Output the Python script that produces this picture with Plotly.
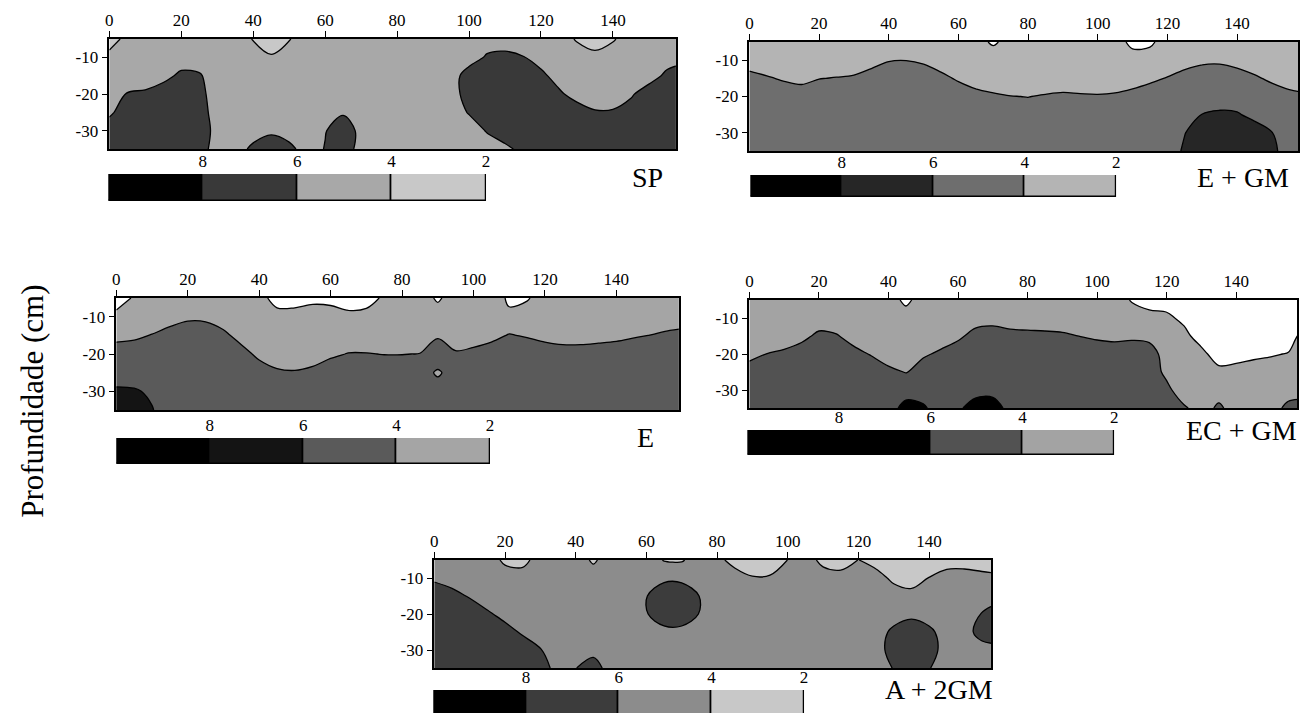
import plotly.graph_objects as go

# ---------------- data ----------------
x_cm = [0, 5, 10, 15, 20, 25, 30, 35, 40, 45, 50, 55, 60, 65, 70, 75, 80,
        85, 90, 95, 100, 105, 110, 115, 120, 125, 130, 135, 140, 145, 150, 155, 160]
depth_cm = [-5, -10, -15, -20, -25, -30, -35]
x_ticks = [0, 20, 40, 60, 80, 100, 120, 140]
depth_ticks = [-10, -20, -30]
levels = [8, 6, 4, 2]          # class limits shown on the colour bars
band_width = [2, 2, 2, 2]

sp_z = [
    [2.5, 5, 5, 5, 5, 5, 5, 5, 3.9, 3, 3.9, 5, 5, 5, 5, 5, 5, 5, 5, 5, 5, 5, 5, 5, 5, 5, 3.8, 3, 3.8, 5, 5, 5, 5],
    [5, 5, 5, 5, 5, 5, 5, 5, 5, 4.2, 5, 5, 5, 5, 5, 5, 5, 5, 5, 5, 5, 6.25, 6.5, 6.1, 5, 5, 5, 4.6, 5, 5, 5, 5, 5.5],
    [5, 5, 5, 5.4, 6.4, 6.2, 5, 5, 5, 5, 5, 5, 5, 5, 5, 5, 5, 5, 5, 5, 7, 7, 7, 7, 6.56, 5, 5, 5, 5, 5, 5, 6.47, 7],
    [5, 6.1, 6.3, 7, 7, 6.6, 5, 5, 5, 5, 5, 5, 5, 5, 5, 5, 5, 5, 5, 5, 7, 7, 7, 7, 7, 6.43, 5, 5, 5, 5.7, 7.17, 7, 7],
    [5.65, 7, 7, 7, 7, 7, 5, 5, 5, 5, 5, 5, 5, 5.8, 5, 5, 5, 5, 5, 5, 6.14, 7, 7, 7, 7, 7, 7.27, 6.16, 6.2, 7, 7, 7, 7],
    [7, 7, 7, 7, 7, 7, 5.4, 5, 5, 5.7, 5, 5, 5.9, 7, 5.5, 5, 5, 5, 5, 5, 5, 6.14, 7, 7, 7, 7, 7, 7, 7, 7, 7, 7, 7],
    [7, 7, 7, 7, 7, 7, 5, 5, 6.5, 7, 6.6, 5, 6.1, 7, 5.3, 5, 5, 5, 5, 5, 5, 5, 5.57, 6.5, 7, 7, 7, 7, 7, 7, 7, 7, 7],
]

egm_z = [
    [3, 3, 3, 3, 3, 3, 3, 3, 3, 3, 3, 3, 3, 2.6, 1.75, 2.6, 3, 3, 3, 3, 3, 3, 1.4, 1.6, 3, 3, 3, 3, 3, 3, 3, 3, 3],
    [2.92, 2.45, 3, 3, 3, 2.31, 2.52, 3.17, 3.86, 3.96, 3.6, 2.81, 3, 3, 3, 3, 3, 3, 3, 3, 3, 3, 3, 3,
     2.34, 3.06, 3.53, 3.6, 3.21, 2.56, 3, 3, 3],
    [4.72, 4.25, 3.71, 3.39, 3.93, 4.11, 4.32, 4.97, 5.66, 5.76, 5.4, 4.61, 3.68, 2.96, 2.56, 2.27, 3,
     2.42, 2.6, 2.49, 2.42, 2.56, 2.96, 3.5, 4.14, 4.86, 5.33, 5.4, 5.01, 4.36, 3.53, 2.88, 2.56],
    [5, 5, 5.51, 5.19, 5.73, 5, 5, 5, 5, 5, 5, 5, 5.48, 4.76, 4.36, 4.07, 3.95, 4.22, 4.4, 4.29, 4.22,
     4.36, 4.76, 5.3, 5, 5, 5, 5, 5, 5, 5.33, 4.68, 4.36],
    [5, 5, 5, 5, 5, 5, 5, 5, 5, 5, 5, 5, 5, 5, 5, 5, 5, 5, 5, 5, 5, 5, 5, 5, 5, 5, 6.05, 6.32, 6.19, 5.44, 5, 5, 5],
    [5, 5, 5, 5, 5, 5, 5, 5, 5, 5, 5, 5, 5, 5, 5, 5, 5, 5, 5, 5, 5, 5, 5, 5, 5, 5.95, 7, 7, 7, 7, 6.05, 5, 5],
    [5, 5, 5, 5, 5, 5, 5, 5, 5, 5, 5, 5, 5, 5, 5, 5, 5, 5, 5, 5, 5, 5, 5, 5, 5, 6.3, 7, 7, 7, 7, 6.5, 5, 5],
]

e_z = [
    [0.2, 2.4, 3, 3, 3, 3, 3, 3, 3, 0.9, 0.9, 1.48, 1.33, 0, 0.73, 2.5, 3, 3, 1.7, 3, 3, 3, 1.7, 1.8,
     3, 3, 3, 3, 3, 3, 3, 3, 3],
    [3, 3, 2.31, 3.03, 3.57, 3.5, 2.74, 3, 3, 3, 3, 3, 3, 3, 3, 3, 3, 3, 3, 3, 3, 3, 2.34,
     3, 3, 3, 3, 3, 3, 3, 2.27, 2.67, 2.88],
    [3.35, 3.53, 4.11, 4.83, 5.37, 5.3, 4.54, 3.1, 3, 3, 3, 3, 3, 2.31, 2.31, 3, 3, 2.27, 3.68, 2.52,
     2.85, 3.35, 4.14, 3.78, 3.35, 3.1, 3.1, 3.24, 3.42, 3.75, 4.07, 4.47, 4.68],
    [5.15, 5.33, 5, 5, 5, 5, 5, 4.9, 3.42, 2.6, 2.42, 2.81, 3.57, 4.11, 4.11, 3.93, 3.93, 4.07, 5.48,
     4.32, 4.65, 5.15, 5, 5.58, 5.15, 4.9, 4.9, 5.04, 5.22, 5.55, 5, 5, 5],
    [5, 5, 5, 5, 5, 5, 5, 5, 5.22, 4.4, 4.22, 4.61, 5.37, 5, 5, 5.73, 5.73, 5, 3.7, 5, 5, 5, 5, 5,
     5, 5, 5, 5, 5, 5, 5, 5, 5],
    [6.32, 6.2, 5.7, 5, 5, 5, 5, 5, 5, 5, 5, 5, 5, 5, 5, 5, 5, 5, 5, 5, 5, 5, 5, 5, 5, 5, 5, 5, 5, 5, 5, 5, 5],
    [7, 7, 6.1, 5, 5, 5, 5, 5, 5, 5, 5, 5, 5, 5, 5, 5, 5, 5, 5, 5, 5, 5, 5, 5, 5, 5, 5, 5, 5, 5, 5, 5, 5],
]

ecgm_z = [
    [3, 3, 3, 3, 3, 3, 3, 3, 3, 1.5, 3, 3, 3, 3, 3, 3, 3, 3, 3, 3, 3, 3, 1.84, 0.8, 0.5, 1, 1, 1, 1, 1, 1, 1, 1],
    [3, 3, 3, 3, 2.7, 2.42, 3, 3, 3, 3, 3, 3, 3, 2.99, 3.21, 2.88, 2.78, 2.7, 2.56, 3, 3, 3, 3, 3,
     2.7, 1.21, 1, 1, 1, 1, 1, 1, 1],
    [3, 2.24, 2.67, 3.35, 4.5, 4.22, 2.99, 3, 3, 3, 3, 2.67, 3.53, 4.79, 5.01, 4.68, 4.58, 4.5, 4.36,
     3.96, 3.6, 3.42, 3.57, 3.3, 3, 3, 0.4, 1, 1, 1, 1, 1, 2.92],
    [3.28, 4.04, 4.47, 5.15, 5, 5, 4.79, 3.82, 2.78, 3, 3.6, 4.47, 5.33, 5, 5, 5, 5, 5, 5, 5.76, 5.4,
     5.22, 5.37, 5.2, 2.9, 3, 3, 0.2, 0.9, 1.53, 1.81, 2.1, 3],
    [5.08, 5, 5, 5, 5, 5, 5, 5.62, 4.58, 3.9, 5.4, 5, 5, 5, 5, 5, 5, 5, 5, 5, 5, 5, 5, 5.4,
     3.4, 3, 3, 3, 3, 3, 3, 3, 3],
    [5, 5, 5, 5, 5, 5, 5, 5, 5, 5.0, 5, 5, 5, 5.2, 5.3, 5, 5, 5, 5, 5, 5, 5, 5, 5,
     4.65, 2.52, 3, 3, 3, 3, 3, 3, 3],
    [5, 5, 5, 5, 5, 5, 5, 5, 5, 6.8, 6.3, 5, 5.6, 7, 7, 5.3, 5, 5, 5, 5, 5, 5, 5, 5, 5,
     4.32, 3, 4.4, 3, 3, 3, 4.6, 5],
]

a2gm_z = [
    [5, 5, 5, 5, 3.6, 3.3, 5, 5, 5, 3.7, 5, 5, 5, 3.9, 3.8, 5, 5, 2.73, 3, 3, 4.02, 5, 3.39, 2.73,
     4.05, 3, 3, 3, 2.27, 3.06, 3.1, 2.85, 2.63],
    [5.6, 4.96, 5, 5, 5, 5, 5, 5, 5, 5, 5, 5, 5, 5.65, 5.63, 5, 5, 5.6, 4.11, 4.19, 5, 5, 5, 5, 5, 5,
     3.42, 2.96, 4.07, 4.86, 4.9, 4.65, 4.43],
    [7.4, 6.76, 5.78, 4.6, 5, 5, 5, 5, 5, 5, 5, 5, 5.94, 7, 7, 5.98, 5, 5, 5, 5, 5, 5, 5, 5, 5, 5,
     5.22, 4.76, 5, 5, 5, 5, 5.4],
    [7, 7, 7.58, 6.4, 5.17, 5, 5, 5, 5, 5, 5, 5, 5.89, 7, 7, 5.94, 5, 5, 5, 5, 5, 5, 5, 5, 5, 5, 5,
     5.6, 5, 5, 5, 6.1, 7],
    [7, 7, 7, 7, 6.97, 5.64, 5, 5, 5, 5, 5, 5, 5, 5.49, 5.5, 5, 5, 5, 5, 5, 5, 5, 5, 5, 5, 5,
     6.5, 7, 6.5, 5, 5, 7, 7],
    [7, 7, 7, 7, 7, 7.44, 6.1, 5, 5, 5.3, 5, 5, 5, 5, 5, 5, 5, 5, 5, 5, 5, 5, 5, 5, 5, 5,
     7, 7, 7, 5, 5, 5, 5.5],
    [7, 7, 7, 7, 7, 7, 7, 5.2, 5.94, 7, 5, 5, 5, 5, 5, 5, 5, 5, 5, 5, 5, 5, 5, 5, 5, 5,
     6.1, 7, 6.1, 5, 5, 5, 5],
]

# ---------------- layout / style ----------------
W, H = 1306, 713
FONT = "Liberation Serif"

panels = [
    dict(title="SP", z=sp_z,
         fills=["#ffffff", "#c8c8c8", "#a8a8a8", "#393939", "#000000"],
         box=(106, 676, 39, 149), cbar=(105, 485, 174, 201), tpos=(647, 177)),
    dict(title="E + GM", z=egm_z,
         fills=["#ffffff", "#b4b4b4", "#6e6e6e", "#262626", "#000000"],
         box=(750, 1302, 42, 151), cbar=(751, 1119, 175, 197), tpos=(1247, 177)),
    dict(title="E", z=e_z,
         fills=["#ffffff", "#a5a5a5", "#5a5a5a", "#141414", "#000000"],
         box=(113, 679, 298, 410), cbar=(113, 489, 438, 464), tpos=(645, 437)),
    dict(title="EC + GM", z=ecgm_z,
         fills=["#ffffff", "#a3a3a3", "#525252", "#000000", "#000000"],
         box=(750, 1301, 300, 408), cbar=(748, 1117, 430, 455), tpos=(1245, 431)),
    dict(title="A + 2GM", z=a2gm_z,
         fills=["#ffffff", "#c8c8c8", "#8c8c8c", "#3c3c3c", "#000000"],
         box=(433, 993, 560, 668), cbar=(432, 805, 690, 713), tpos=(941, 689)),
]


def fx(p):
    return p / W


def fy(p):
    return 1 - p / H


fig = go.Figure()
layout = {}
annotations = []
tickfont = dict(family=FONT, size=17, color="black")
depth_text = [str(v) for v in depth_ticks]

for i, p in enumerate(panels):
    n_c = 2 * i + 1
    n_b = 2 * i + 2
    xa_c = "x" if n_c == 1 else f"x{n_c}"
    ya_c = "y" if n_c == 1 else f"y{n_c}"
    xa_b, ya_b = f"x{n_b}", f"y{n_b}"

    f = p["fills"]
    fig.add_trace(go.Contour(
        x=x_cm, y=depth_cm, z=p["z"], xaxis=xa_c, yaxis=ya_c,
        autocontour=False,
        contours=dict(start=2, end=8, size=2, coloring="fill", showlines=True),
        colorscale=[[0, f[0]], [0.25, f[1]], [0.5, f[2]], [0.75, f[3]], [1, f[4]]],
        line=dict(color="black", width=1.3, smoothing=1),
        showscale=False, hoverinfo="skip"))

    # class colour bar (bands 10-8, 8-6, 6-4, 4-2)
    fig.add_trace(go.Bar(
        x=band_width, base=levels, y=[0, 0, 0, 0], orientation="h", width=1,
        marker=dict(color=[f[4], f[3], f[2], f[1]], line=dict(color="black", width=1.6)),
        xaxis=xa_b, yaxis=ya_b, showlegend=False, hoverinfo="skip"))

    x0, x1, y0, y1 = p["box"]
    kx = "xaxis" if n_c == 1 else f"xaxis{n_c}"
    ky = "yaxis" if n_c == 1 else f"yaxis{n_c}"
    layout[kx] = dict(domain=[fx(x0), fx(x1)], range=[0, 157.5], side="top",
                      tickvals=x_ticks, ticks="outside", ticklen=6, tickcolor="black",
                      showline=True, mirror=True, linecolor="black", linewidth=1.5,
                      showgrid=False, zeroline=False, anchor=ya_c, tickfont=tickfont,
                      ticklabelstandoff=-2, fixedrange=True)
    layout[ky] = dict(domain=[fy(y1), fy(y0)], range=[-35, -5],
                      tickvals=depth_ticks, ticktext=depth_text, ticks="outside", ticklen=6,
                      tickcolor="black",
                      showline=True, mirror=True, linecolor="black", linewidth=1.5,
                      showgrid=False, zeroline=False, anchor=xa_c, tickfont=tickfont,
                      fixedrange=True)

    bx0, bx1, by0, by1 = p["cbar"]
    yr = [-0.5, 0.5] if by1 < H else [-0.42, 0.5]
    layout[f"xaxis{n_b}"] = dict(domain=[fx(bx0), fx(bx1)], range=[10, 2], side="top",
                                 tickvals=levels, ticks="", showline=False, showgrid=False,
                                 zeroline=False, anchor=ya_b, tickfont=tickfont,
                                 ticklabelstandoff=3, fixedrange=True)
    layout[f"yaxis{n_b}"] = dict(domain=[fy(by1), fy(by0)], range=yr, visible=False,
                                 anchor=xa_b, fixedrange=True)

    tx, ty = p["tpos"]
    annotations.append(dict(text=p["title"], x=fx(tx), y=fy(ty), xref="paper", yref="paper",
                            showarrow=False, xanchor="center", yanchor="middle",
                            font=dict(family=FONT, size=28, color="black")))

annotations.append(dict(text="Profundidade (cm)", x=fx(28), y=fy(401), xref="paper",
                        yref="paper", showarrow=False, textangle=-90, xanchor="center",
                        yanchor="middle", font=dict(family=FONT, size=31, color="black")))

fig.update_layout(width=W, height=H, autosize=False, margin=dict(l=0, r=0, t=0, b=0),
                  paper_bgcolor="white", plot_bgcolor="white", showlegend=False,
                  annotations=annotations, bargap=0, **layout)

fig.write_html("out.html", config={"displayModeBar": False},
               post_script="document.body.style.margin='0';document.body.style.overflow='hidden';")
